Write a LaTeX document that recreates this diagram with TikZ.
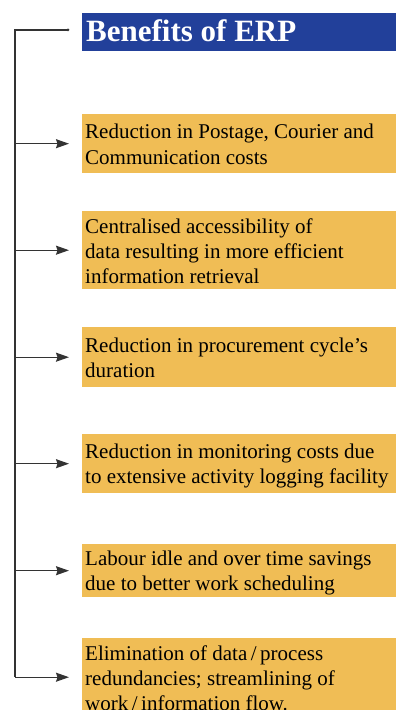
\documentclass[tikz,border=0pt]{standalone}
\usepackage{fontspec}
\setmainfont{Liberation Serif}
\usetikzlibrary{arrows.meta}
\definecolor{erpblue}{HTML}{22409A}
\definecolor{erporange}{HTML}{F0BD55}
\definecolor{linegray}{HTML}{333333}
\begin{document}
\begin{tikzpicture}[x=1bp,y=-1bp,
  benefit/.style={rectangle, fill=erporange, draw=none, inner sep=0, minimum width=314bp, anchor=north west},
  titlebox/.style={rectangle, fill=erpblue, draw=none, inner sep=0, minimum width=314bp, minimum height=38bp, anchor=north west},
  blabel/.style={anchor=base west, inner sep=0, text=black, font=\fontsize{21bp}{25bp}\selectfont},
  tlabel/.style={anchor=base west, inner sep=0, text=white, font=\fontsize{31bp}{36bp}\selectfont\bfseries},
  conn/.style={draw=linegray, line width=1.2bp},
  arr/.style={conn, -{Stealth[length=13bp,width=9bp,inset=1.5bp]}, shorten >=13bp}]
\useasboundingbox (0,0) rectangle (398,710);
% title
\node[titlebox] (title) at (82,13) {};
\node[tlabel] (titletext) at (86,42) {Benefits of ERP};
% boxes
\node[benefit, minimum height=59bp] (b1) at (82,114) {};
\node[benefit, minimum height=78bp] (b2) at (82,211) {};
\node[benefit, minimum height=60bp] (b3) at (82,327) {};
\node[benefit, minimum height=59bp] (b4) at (82,434) {};
\node[benefit, minimum height=53bp] (b5) at (82,544) {};
\node[benefit, minimum height=78bp] (b6) at (82,638) {};
% texts
\node[blabel] (t1) at (85,139) {\parbox[t]{310bp}{Reduction in Postage, Courier and\\Communication costs}};
\node[blabel] (t2) at (85,233) {\parbox[t]{310bp}{Centralised accessibility of\\data resulting in more efficient\\information retrieval}};
\node[blabel] (t3) at (85,352) {\parbox[t]{310bp}{Reduction in procurement cycle’s\\duration}};
\node[blabel] (t4) at (85,458) {\parbox[t]{310bp}{Reduction in monitoring costs due\\to extensive activity logging facility}};
\node[blabel] (t5) at (85,565) {\parbox[t]{310bp}{Labour idle and over time savings\\due to better work scheduling}};
\node[blabel] (t6) at (85,660) {\parbox[t]{310bp}{Elimination of data\,/\,process\\redundancies; streamlining of\\work\,/\,information flow.}};
% connectors
\coordinate (top) at (15,30);
\coordinate (topend) at (68,30);
\draw[conn] (topend) -- (top) -- (b6.west -| top);
\fill[linegray] (topend) circle (1.5bp);
\foreach \b in {b1,b2,b3,b4,b5,b6}
  \draw[arr] (\b.west -| top) -- (\b.west);
\end{tikzpicture}
\end{document}
